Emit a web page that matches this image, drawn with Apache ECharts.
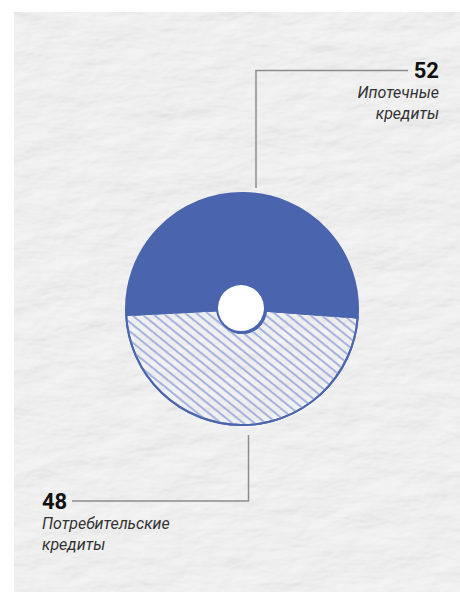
<!DOCTYPE html>
<html>
<head>
<meta charset="utf-8">
<script src="https://cdn.jsdelivr.net/npm/echarts@6/dist/echarts.min.js"></script>
<style>
    html, body { margin: 0; padding: 0; background: #fff; }
    #paper {
        position: absolute; left: 14px; top: 12px; width: 446px; height: 580px;
        background-color: #ebebeb;
        background-image: url("data:image/svg+xml;utf8,<svg xmlns='http://www.w3.org/2000/svg' width='446' height='580'><filter id='p'><feTurbulence type='fractalNoise' baseFrequency='0.018 0.04' numOctaves='4' seed='7'/><feDiffuseLighting surfaceScale='2' lighting-color='%23f4f4f4'><feDistantLight azimuth='235' elevation='72'/></feDiffuseLighting></filter><rect width='446' height='580' filter='url(%23p)'/></svg>");
    }
    #chart { position: absolute; left: 0; top: 0; width: 460px; height: 592px; }
</style>
</head>
<body>
<div id="paper"></div>
<div id="chart"></div>
<script>
    // доли кредитов, %
    var categories = ['Ипотечные кредиты', 'Потребительские кредиты'];
    var values = [52, 48];

    var blue = '#4a65ae';

    var chart = echarts.init(document.getElementById('chart'), null, {renderer: 'svg'});

    var data = categories.map(function (name, i) {
        var item = {name: name, value: values[i]};
        if (i === 1) {
            item.itemStyle = {
                color: 'rgba(255,255,255,0.05)',
                decal: {
                    symbol: 'rect',
                    color: '#a6b3e0',
                    dashArrayX: [1, 0],
                    dashArrayY: [1.8, 4.6],
                    rotation: 0.68
                }
            };
        }
        return item;
    });

    var option = {
        backgroundColor: 'transparent',
        animation: false,
        series: [
            {
                type: 'pie',
                center: [242, 309],
                radius: [24, 116],
                startAngle: 183,
                clockwise: true,
                silent: true,
                itemStyle: {color: blue, borderColor: blue, borderWidth: 2},
                label: {
                    show: true,
                    position: 'outside',
                    formatter: function (p) {
                        return '{v|' + p.value + '}\n{n|' + p.name.replace(' ', '\n') + '}';
                    },
                    rich: {
                        v: {fontFamily: 'Roboto', fontWeight: 'bold', fontSize: 22, color: '#111', lineHeight: 24},
                        n: {fontFamily: 'Roboto', fontStyle: 'italic', fontSize: 16, color: '#333', lineHeight: 21}
                    }
                },
                labelLine: {
                    show: true,
                    lineStyle: {color: '#8c8c8c', width: 1.5}
                },
                labelLayout: function (params) {
                    if (params.dataIndex === 0) {
                        return {
                            x: 439, y: 58, align: 'right', verticalAlign: 'top',
                            labelLinePoints: [[256, 188], [256, 70.5], [408, 70.5]]
                        };
                    }
                    return {
                        x: 42, y: 489, align: 'left', verticalAlign: 'top',
                        labelLinePoints: [[248.5, 435], [248.5, 501], [72, 501]]
                    };
                },
                data: data
            },
            {
                // белая середина
                type: 'pie',
                center: [241, 308],
                radius: [0, 24],
                silent: true,
                label: {show: false},
                labelLine: {show: false},
                itemStyle: {color: '#fff', borderColor: blue, borderWidth: 2},
                data: [{value: 1, name: ''}]
            }
        ]
    };
    chart.setOption(option);
</script>
</body>
</html>
